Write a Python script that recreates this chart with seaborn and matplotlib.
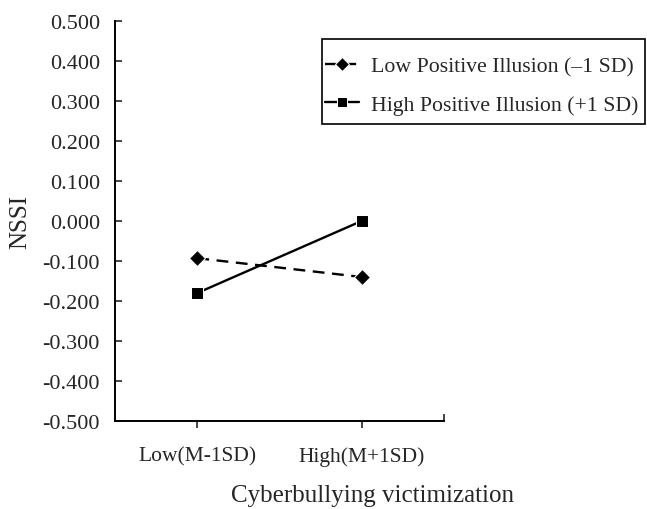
import matplotlib
matplotlib.use("Agg")
import matplotlib.pyplot as plt
from matplotlib.patches import Rectangle
import seaborn as sns
import pandas as pd

categories = ["Low(M-1SD)", "High(M+1SD)"]
low_pi = [-0.093, -0.140]
high_pi = [-0.180, 0.000]
series_names = ["Low Positive Illusion (\u20131 SD)", "High Positive Illusion (+1 SD)"]
y_ticks = [-0.5, -0.4, -0.3, -0.2, -0.1, 0.0, 0.1, 0.2, 0.3, 0.4, 0.5]

df = pd.DataFrame({
    "victim": categories * 2,
    "NSSI": low_pi + high_pi,
    "group": [series_names[0]] * 2 + [series_names[1]] * 2,
})

sns.set_style("ticks")
plt.rcParams["font.family"] = ["Liberation Serif", "DejaVu Serif"]
plt.rcParams["axes.unicode_minus"] = False

fig = plt.figure(figsize=(6.47, 5.10), dpi=100)
ax = fig.add_axes([0.178, 0.1725, 0.508, 0.7845])

sns.lineplot(data=df, x="victim", y="NSSI", style="group", hue="group",
             palette=["black", "black"],
             markers={series_names[0]: "D", series_names[1]: "s"},
             dashes={series_names[0]: (5, 3.2), series_names[1]: ""},
             markersize=8, linewidth=1.7, ax=ax, sort=False)

ax.set_xlim(-0.5, 1.5)
ax.set_ylim(-0.5, 0.5)
ax.set_yticks(y_ticks)
ax.set_yticklabels(["%.3f" % v for v in y_ticks], fontsize=16)
ax.set_xticks([0, 1])
ax.set_xticklabels(categories, fontsize=15.5)
ax.tick_params(axis="y", direction="in", length=5, width=1.2, pad=11)
ax.tick_params(axis="x", direction="out", length=5, width=1.2, pad=13)
ax.set_xticks([1.5], minor=True)
ax.tick_params(axis="x", which="minor", direction="in", length=5, width=1.2)

for s in ["top", "right"]:
    ax.spines[s].set_visible(False)
for s in ["left", "bottom"]:
    ax.spines[s].set_linewidth(1.4)
    ax.spines[s].set_color("black")

# x label sits to the right of the axis centre in the original
ax.set_xlabel("Cyberbullying victimization", fontsize=18, labelpad=13)
ax.xaxis.label.set_x(0.784)
ax.set_ylabel("NSSI", fontsize=18, labelpad=8)

handles, labels = ax.get_legend_handles_labels()
ax.get_legend().remove()
leg = fig.legend(handles, labels, loc="upper left", bbox_to_anchor=(0.503, 0.888),
                 fontsize=15.7, frameon=False,
                 handlelength=1.55, handletextpad=0.55, borderpad=0, labelspacing=0.82,
                 borderaxespad=0, markerscale=0.85)

# legend box, drawn separately: wide vertical padding, tight horizontal padding
fig.patches.append(Rectangle((322 / 647, 1 - 125 / 510), 323 / 647, 85 / 510,
                             transform=fig.transFigure, fill=False,
                             edgecolor="black", linewidth=1.2))

fig.savefig("out.png", dpi=100)
